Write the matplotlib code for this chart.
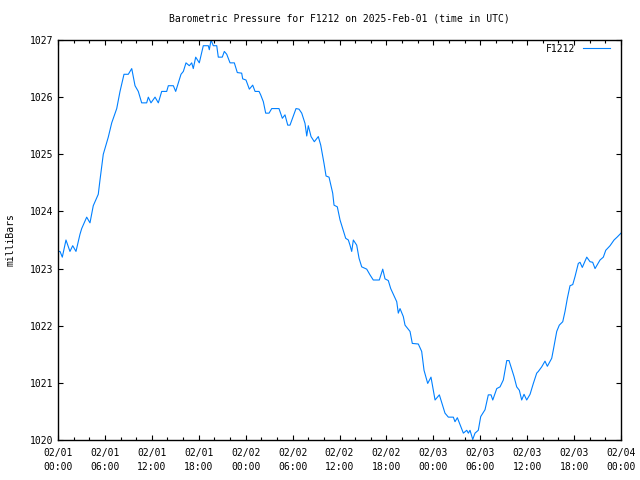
import matplotlib
matplotlib.use("Agg")
import matplotlib.pyplot as plt
import numpy as np

# hours since 2025-02-01 00:00 UTC
hours = [0.0, 0.26, 0.55, 1.02, 1.53, 1.88, 2.30, 2.81, 3.03, 3.67, 4.09, 4.51, 5.15,
         5.37, 5.79, 6.43, 6.87, 7.51, 7.93, 8.44, 8.99, 9.43, 9.85, 10.27, 10.70,
         11.34, 11.55, 11.89, 12.41, 12.83, 13.26, 13.90, 14.11, 14.75, 15.05, 15.73,
         16.03, 16.37, 16.79, 17.10, 17.30, 17.61, 18.07, 18.58, 19.22, 19.35, 19.57,
         19.86, 20.30, 20.50, 21.01, 21.27, 21.58, 22.00, 22.55, 22.93, 23.49, 23.62,
         24.04, 24.47, 24.90, 25.20, 25.71, 25.92, 26.26, 26.56, 26.99, 27.33, 28.26,
         28.69, 29.03, 29.38, 29.67, 30.44, 30.82, 31.17, 31.59, 31.81, 32.01, 32.36,
         32.78, 33.29, 33.60, 34.02, 34.28, 34.66, 35.13, 35.30, 35.72, 36.07, 36.41,
         36.79, 37.13, 37.34, 37.56, 37.77, 38.20, 38.50, 38.84, 39.48, 39.90, 40.32,
         41.09, 41.53, 41.82, 42.24, 42.55, 43.32, 43.52, 43.74, 44.16, 44.38, 45.02,
         45.31, 46.08, 46.51, 46.81, 47.28, 47.70, 48.22, 48.77, 49.49, 49.92, 50.56,
         50.77, 51.07, 51.84, 52.27, 52.48, 52.69, 53.04, 53.33, 53.75, 54.06, 54.61,
         55.03, 55.38, 55.60, 56.11, 56.53, 56.95, 57.39, 57.68, 58.32, 58.66, 59.00,
         59.30, 59.60, 59.94, 60.37, 60.79, 61.22, 61.43, 61.86, 62.28, 62.58, 63.14,
         63.35, 63.78, 64.11, 64.55, 64.84, 65.14, 65.48, 65.83, 66.12, 66.54, 66.76,
         67.05, 67.62, 68.04, 68.38, 68.68, 69.32, 69.74, 70.05, 70.60, 71.11, 71.50,
         72.0]

pressure = [1023.3, 1023.3, 1023.2, 1023.5, 1023.3, 1023.4, 1023.3, 1023.6, 1023.7,
            1023.9, 1023.8, 1024.1, 1024.3, 1024.55, 1025.0, 1025.3, 1025.55, 1025.8,
            1026.1, 1026.4, 1026.4, 1026.5, 1026.2, 1026.1, 1025.9, 1025.9, 1026.0,
            1025.9, 1026.0, 1025.9, 1026.1, 1026.1, 1026.2, 1026.2, 1026.1, 1026.4,
            1026.45, 1026.6, 1026.55, 1026.6, 1026.5, 1026.7, 1026.6, 1026.9, 1026.9,
            1026.83, 1027.0, 1026.9, 1026.9, 1026.7, 1026.7, 1026.8, 1026.75, 1026.6,
            1026.6, 1026.43, 1026.42, 1026.32, 1026.3, 1026.14, 1026.21, 1026.1, 1026.1,
            1026.04, 1025.92, 1025.72, 1025.72, 1025.8, 1025.8, 1025.63, 1025.69,
            1025.51, 1025.51, 1025.8, 1025.79, 1025.72, 1025.54, 1025.32, 1025.5,
            1025.31, 1025.22, 1025.31, 1025.16, 1024.84, 1024.62, 1024.6, 1024.32,
            1024.11, 1024.08, 1023.85, 1023.7, 1023.53, 1023.5, 1023.41, 1023.3,
            1023.5, 1023.41, 1023.18, 1023.03, 1022.99, 1022.89, 1022.8, 1022.8,
            1022.99, 1022.82, 1022.79, 1022.65, 1022.42, 1022.22, 1022.3, 1022.16,
            1022.01, 1021.9, 1021.69, 1021.68, 1021.55, 1021.22, 1020.99, 1021.1,
            1020.7, 1020.79, 1020.47, 1020.4, 1020.4, 1020.32, 1020.39, 1020.12,
            1020.17, 1020.12, 1020.17, 1020.01, 1020.12, 1020.17, 1020.41, 1020.53,
            1020.79, 1020.79, 1020.7, 1020.9, 1020.93, 1021.05, 1021.39, 1021.39,
            1021.11, 1020.93, 1020.87, 1020.7, 1020.8, 1020.7, 1020.8, 1020.99,
            1021.17, 1021.2, 1021.28, 1021.38, 1021.29, 1021.43, 1021.58, 1021.9,
            1022.01, 1022.07, 1022.25, 1022.48, 1022.7, 1022.72, 1022.86, 1023.09,
            1023.11, 1023.02, 1023.2, 1023.12, 1023.11, 1023.0, 1023.15, 1023.2,
            1023.32, 1023.4, 1023.5, 1023.55, 1023.62]

tick_labels = ["02/01\n00:00", "02/01\n06:00", "02/01\n12:00", "02/01\n18:00",
               "02/02\n00:00", "02/02\n06:00", "02/02\n12:00", "02/02\n18:00",
               "02/03\n00:00", "02/03\n06:00", "02/03\n12:00", "02/03\n18:00",
               "02/04\n00:00"]

plt.rcParams['font.family'] = 'DejaVu Sans Mono'
plt.rcParams['font.size'] = 7

fig = plt.figure(figsize=(6.4, 4.8), dpi=100)
ax = fig.add_axes([58/640, 40/480, 563/640, 400/480])

ax.plot(hours, pressure, color='#0080ff', linewidth=0.8, label='F1212')

ax.set_xlim(0, 72)
ax.set_ylim(1020, 1027)
ax.set_xticks(np.arange(0, 73, 6))
ax.set_xticks(np.arange(0, 73, 2), minor=True)
ax.set_xticklabels(tick_labels, linespacing=1.5)
ax.set_yticks(np.arange(1020, 1028, 1))

ax.tick_params(which='both', direction='in', top=True, right=True, width=0.8)
ax.tick_params(which='major', length=3.5)
ax.tick_params(axis='x', which='major', pad=6)
ax.tick_params(which='minor', length=2)
for s in ax.spines.values():
    s.set_linewidth(1.0)

ax.set_ylabel('milliBars', labelpad=10)
ax.set_title('Barometric Pressure for F1212 on 2025-Feb-01 (time in UTC)',
             fontsize=7, pad=13)
ax.legend(loc='upper right', bbox_to_anchor=(0.993, 1.008), frameon=False,
          markerfirst=False, handlelength=2.8, borderaxespad=0.3)

fig.savefig('out.png', dpi=100)
